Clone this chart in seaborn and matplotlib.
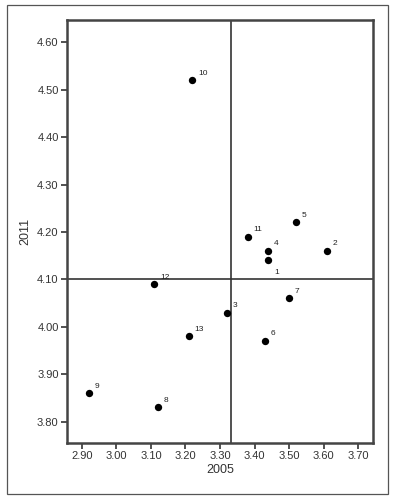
import matplotlib
matplotlib.use("Agg")
import matplotlib.pyplot as plt
import seaborn as sns
import pandas as pd
from matplotlib.patches import Rectangle

labels = ["1", "2", "3", "4", "5", "6", "7", "8", "9", "10", "11", "12", "13"]
x2005 = [3.44, 3.61, 3.32, 3.44, 3.52, 3.43, 3.50, 3.12, 2.92, 3.22, 3.38, 3.11, 3.21]
y2011 = [4.14, 4.16, 4.03, 4.16, 4.22, 3.97, 4.06, 3.83, 3.86, 4.52, 4.19, 4.09, 3.98]
x_ticks = [2.90, 3.00, 3.10, 3.20, 3.30, 3.40, 3.50, 3.60, 3.70]
y_ticks = [3.80, 3.90, 4.00, 4.10, 4.20, 4.30, 4.40, 4.50, 4.60]
ref_x = 3.332
ref_y = 4.10

df = pd.DataFrame({"2005": x2005, "2011": y2011, "label": labels})

sns.set_theme(style="white")
plt.rcParams["font.family"] = ["Liberation Sans", "DejaVu Sans"]

fig = plt.figure(figsize=(3.98, 5.01), dpi=100)
fig.patches.append(Rectangle((7 / 398, 1 - 494 / 501), 381 / 398, 489 / 501,
                             transform=fig.transFigure, fill=False,
                             edgecolor="#555555", linewidth=0.9))
ax = fig.add_axes([67 / 398, 1 - 443 / 501, 306 / 398, 423 / 501])

sns.scatterplot(data=df, x="2005", y="2011", ax=ax, color="black",
                s=28, edgecolor="black", linewidth=0, zorder=3)

ax.axvline(ref_x, color="#333333", linewidth=1.2, zorder=2)
ax.axhline(ref_y, color="#333333", linewidth=1.2, zorder=2)

for lab, xv, yv in zip(labels, x2005, y2011):
    if lab == "1":
        off = (4, -10)
    else:
        off = (4, 4)
    ax.annotate(lab, (xv, yv), xytext=off, textcoords="offset points",
                fontsize=6, color="#222222")

ax.set_xlim(2.857, 3.743)
ax.set_ylim(3.755, 4.647)
ax.set_xticks(x_ticks)
ax.set_yticks(y_ticks)
ax.set_xticklabels([f"{v:.2f}" for v in x_ticks], fontsize=8, color="#333333")
ax.set_yticklabels([f"{v:.2f}" for v in y_ticks], fontsize=8, color="#333333")
ax.tick_params(axis="both", direction="out", length=4, width=1.2,
               color="#333333", pad=2, bottom=True, left=True)
for sp in ax.spines.values():
    sp.set_color("#444444")
    sp.set_linewidth(1.8)
ax.set_xlabel("2005", fontsize=9, color="#333333", labelpad=2)
ax.set_ylabel("2011", fontsize=9, color="#333333", labelpad=4)

fig.savefig("out.png", dpi=100)
